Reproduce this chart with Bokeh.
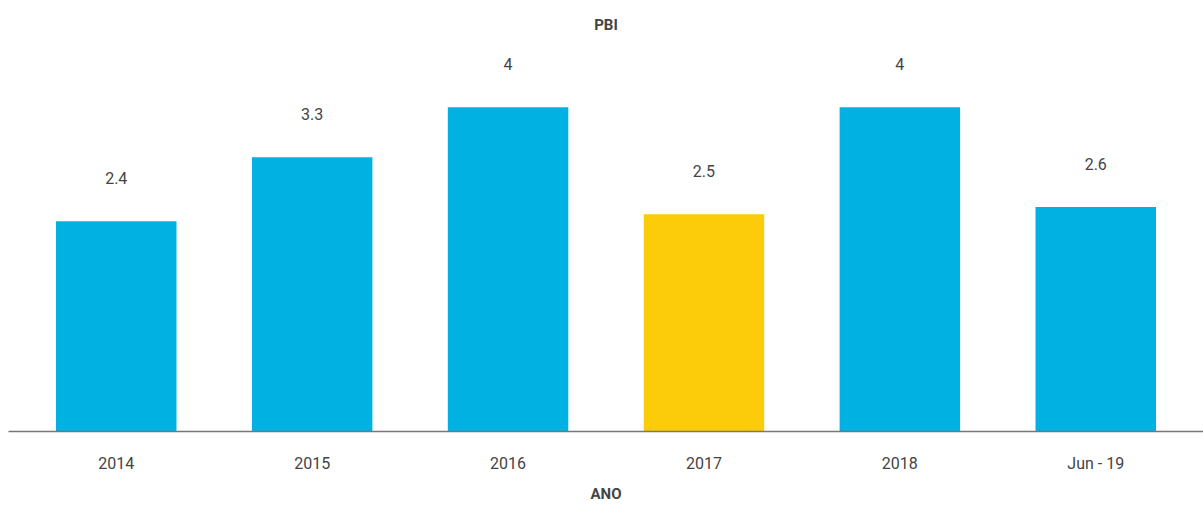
from bokeh.plotting import figure
from bokeh.models import ColumnDataSource, Range1d, FactorRange, Title
from bokeh.embed import file_html
from bokeh.resources import INLINE
from bokeh.core.properties import value

categories = ["2014", "2015", "2016", "2017", "2018", "Jun - 19"]
pbi = [2.4, 3.3, 4.0, 2.5, 4.0, 2.6]
labels = ["2.4", "3.3", "4", "2.5", "4", "2.6"]
colors = ["#00B1E2", "#00B1E2", "#00B1E2", "#FCCC0A", "#00B1E2", "#00B1E2"]

W, H = 1203, 509
TOP, BOTTOM, LEFT = 40, 78, 8
PX_PER_UNIT = 71.25
Y0 = -0.55
frame_h = H - TOP - BOTTOM
Y1 = Y0 + frame_h / PX_PER_UNIT

bottoms = [Y0] * len(pbi)
src = ColumnDataSource(dict(x=categories, top=pbi, bottom=bottoms, color=colors, label=labels))

p = figure(x_range=FactorRange(*categories, range_padding=0.1 / 6),
           y_range=Range1d(Y0, Y1),
           width=W, height=H, output_backend="svg", toolbar_location=None,
           min_border_left=LEFT, min_border_right=0, min_border_top=TOP, min_border_bottom=BOTTOM)

p.vbar(x="x", top="top", bottom="bottom", width=0.615, color="color", line_color=None, source=src)
p.text(x="x", y="top", text="label", source=src, y_offset=-43,
       text_align="center", text_baseline="middle",
       text_font=value("Roboto"), text_font_size="16px", text_color="#444444")

p.yaxis.visible = False
p.grid.visible = False
p.outline_line_color = None
ax = p.xaxis[0]
ax.axis_line_color = "#777777"
ax.axis_line_width = 1.5
ax.major_tick_line_color = None
ax.minor_tick_line_color = None
ax.major_tick_out = 0
ax.major_tick_in = 0
ax.minor_tick_out = 0
ax.major_label_text_font = "Roboto"
ax.major_label_text_font_size = "16px"
ax.major_label_text_color = "#444444"
ax.major_label_standoff = 22

top_title = Title(text="PBI", align="center", offset=8, standoff=14,
                  text_font="Roboto", text_font_size="15px", text_font_style="bold",
                  text_color="#444444")
bottom_title = Title(text="ANO", align="center", offset=8, standoff=14,
                     text_font="Roboto", text_font_size="15px", text_font_style="bold",
                     text_color="#444444")
p.add_layout(top_title, "above")
p.add_layout(bottom_title, "below")

open("out.html", "w").write(file_html(p, INLINE))
